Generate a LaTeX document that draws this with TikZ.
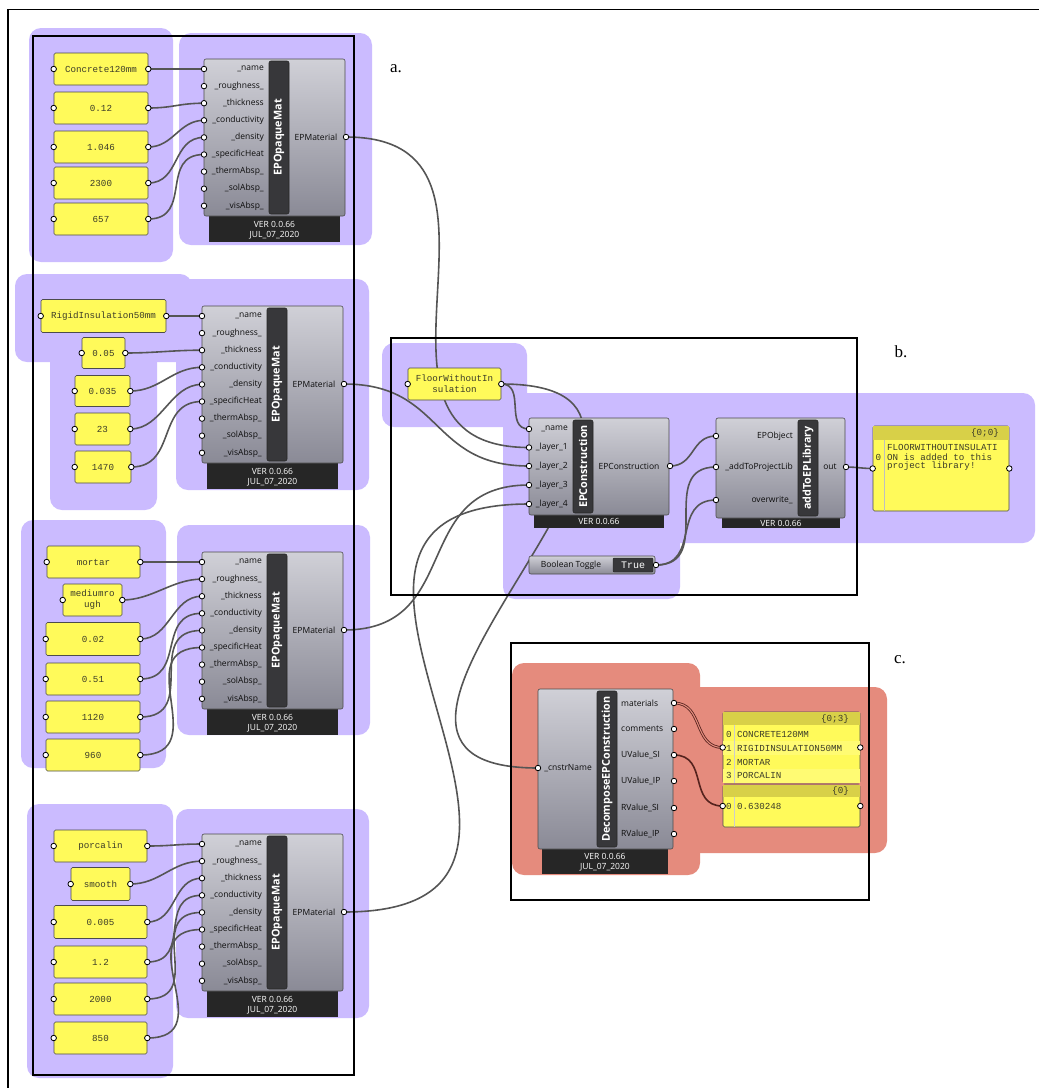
\documentclass[tikz,border=0pt]{standalone}
\usepackage{fontspec}
\newfontfamily\gh{Open Sans}
\newfontfamily\ghmono{Liberation Mono}
\newfontfamily\lblfont{Liberation Serif}
\definecolor{grpc}{RGB}{203,187,255}
\definecolor{salm}{RGB}{229,139,125}
\definecolor{bodytop}{RGB}{208,208,215}
\definecolor{bodybot}{RGB}{138,138,150}
\definecolor{footc}{RGB}{38,38,38}
\definecolor{stripc}{RGB}{55,55,58}
\definecolor{panc}{RGB}{255,250,90}
\definecolor{panhead}{RGB}{216,208,72}
\definecolor{wirec}{RGB}{85,85,85}
\definecolor{redwire}{RGB}{85,35,30}
\definecolor{pantext}{RGB}{60,60,40}
\pgfdeclarelayer{bg}\pgfdeclarelayer{wires}\pgfdeclarelayer{front}
\pgfsetlayers{bg,wires,main,front}
\tikzset{
 grp/.style={fill=grpc, rounded corners=12pt},
 grpc2/.style={fill=salm, rounded corners=12pt},
 body/.style={draw=black!70, line width=0.6pt, rounded corners=2pt, top color=bodytop, bottom color=bodybot},
 strip/.style={fill=stripc, draw=black!85, line width=0.6pt, rounded corners=2pt},
 ttl/.style={font=\gh\bfseries\fontsize{10.8}{11}\selectfont, text=white, inner sep=0pt, rotate=90},
 lab/.style={font=\gh\fontsize{8.5}{9}\selectfont, text=black!95, inner sep=0pt},
 ftxt/.style={font=\gh\fontsize{8.5}{9}\selectfont, text=white, inner sep=0pt},
 pan/.style={draw=black!70, fill=panc, rounded corners=1.5pt, line width=0.6pt, font=\ghmono\fontsize{9.2}{11}\selectfont, text=pantext, align=center, inner sep=0pt},
 ptxt/.style={font=\ghmono\fontsize{9.2}{10}\selectfont, text=pantext, inner sep=0pt},
 port/.style={circle, draw=black, fill=white, inner sep=0pt, minimum size=5.5pt, line width=0.8pt},
 wire/.style={draw=wirec, line width=1.6pt},
 frame/.style={draw=black, line width=1.4pt},
 letter/.style={font=\lblfont\fontsize{17}{17}\selectfont, inner sep=0pt},
}
\newcommand\opmat[3]{%
 \begin{scope}[shift={(#2,#3)}]
  \fill[footc] (5,150) rectangle (136,183);
  \draw[body] (0,0) rectangle (141,157);
  \draw[strip] (65,2) rectangle (85,155);
  \node[ttl] at (75,78.5) {EPOpaqueMat};
  \foreach \pname [count=\i from 0] in {\_name,\_roughness\_,\_thickness,\_conductivity,\_density,\_specificHeat,\_thermAbsp\_,\_solAbsp\_,\_visAbsp\_}{
    \node[lab, anchor=east] at (60,{10+17.1*\i}) {\pname};
    \node[port] (#1i\i) at (0,{10+17.1*\i}) {};
  }
  \node[lab] at (112,78) {EPMaterial};
  \node[port] (#1o) at (142,78) {};
  \node[ftxt] at (70.5,165) {VER 0.0.66};
  \node[ftxt] at (70.5,176) {JUL\_07\_2020};
 \end{scope}}
\newcommand\ypan[6]{%
 \node[pan, minimum width=#4pt, minimum height=#5pt] (#1) at (#2,#3) {#6};
 \node[port] (#1i) at (#1.west) {};
 \node[port] (#1o) at (#1.east) {};}
\newcommand\wire[3]{\draw[wire] (#1.center) .. controls +(#3,0) and +(-#3,0) .. (#2.center);}
\begin{document}
\begin{tikzpicture}[x=1pt,y=-1pt]
\path[use as bounding box] (0,0) rectangle (1039,1088);
% ---------- groups ----------
\begin{pgfonlayer}{bg}
 \fill[white] (0,0) rectangle (1039,1088);
 \fill[grp] (29,28) rectangle (173,262);
 \fill[grp] (179,33) rectangle (372,245);
 \fill[grp] (15,274) rectangle (192,330);
 \fill[grp] (15,279) rectangle (369,362);
 \fill[grp] (50,300) rectangle (157,510);
 \fill[grp] (176,300) rectangle (369,490);
 \fill[grp] (21,520) rectangle (166,768);
 \fill[grp] (177,525) rectangle (370,735);
 \fill[grp] (27,804) rectangle (173,1078);
 \fill[grp] (176,809) rectangle (369,1018);
 \fill[grp] (382,343) rectangle (527,427);
 \fill[grp] (503,393) rectangle (680,599);
 \fill[grp] (503,393) rectangle (1035,543);
 \fill[grpc2] (512,663) rectangle (700,875);
 \fill[grpc2] (512,687) rectangle (887,853);
\end{pgfonlayer}
% ---------- material components ----------
\opmat{ca}{204}{59}
\opmat{cb}{202}{306}
\opmat{cc}{202}{552}
\opmat{cd}{202}{834}
% ---------- panels ----------
\ypan{pa1}{101}{69}{94}{32}{Concrete120mm}
\ypan{pa2}{101}{108}{94}{32}{0.12}
\ypan{pa3}{101}{147}{94}{32}{1.046}
\ypan{pa4}{101}{183}{94}{32}{2300}
\ypan{pa5}{101}{219}{94}{32}{657}
\ypan{pb1}{103.5}{316}{125}{33}{RigidInsulation50mm}
\ypan{pb2}{103.5}{353}{43}{31}{0.05}
\ypan{pb3}{102.5}{391}{55}{31}{0.035}
\ypan{pb4}{102.5}{429}{55}{32}{23}
\ypan{pb5}{103}{467}{56}{32}{1470}
\ypan{pc1}{93.5}{562}{93}{32}{mortar}
\ypan{pc2}{92.5}{600}{59}{32}{mediumro\\ugh}
\ypan{pc3}{93}{639}{94}{33}{0.02}
\ypan{pc4}{93}{679}{94}{32}{0.51}
\ypan{pc5}{93}{717}{94}{32}{1120}
\ypan{pc6}{93}{755}{94}{32}{960}
\ypan{pd1}{100.5}{846}{93}{32}{porcalin}
\ypan{pd2}{100.5}{884}{59}{33}{smooth}
\ypan{pd3}{100.5}{922}{93}{33}{0.005}
\ypan{pd4}{100.5}{962}{93}{32}{1.2}
\ypan{pd5}{100.5}{999}{93}{32}{2000}
\ypan{pd6}{100.5}{1038}{93}{32}{850}
\ypan{fw}{454.5}{384}{93}{32}{FloorWithoutIn\\sulation}
% ---------- EPConstruction ----------
\begin{scope}[shift={(529,418)}]
 \fill[footc] (5,90) rectangle (135,110);
 \draw[body] (0,0) rectangle (140,97);
 \draw[strip] (44,2) rectangle (64,95);
 \node[ttl] at (54,48.5) {EPConstruction};
 \foreach \pname/\yy [count=\i from 0] in {\_name/11,\_layer\_1/29.5,\_layer\_2/48,\_layer\_3/67,\_layer\_4/86}{
   \node[lab, anchor=east] at (39,\yy) {\pname};
   \node[port] (eci\i) at (0,\yy) {};
 }
 \node[lab] at (100,48) {EPConstruction};
 \node[port] (eco) at (141,48) {};
 \node[ftxt] at (70,103.5) {VER 0.0.66};
\end{scope}
% ---------- addToEPLibrary ----------
\begin{scope}[shift={(716,418)}]
 \fill[footc] (6,93) rectangle (124,110);
 \draw[body] (0,0) rectangle (129,100);
 \draw[strip] (82,2) rectangle (102,98);
 \node[ttl] at (92,50) {addToEPLibrary};
 \foreach \pname/\yy [count=\i from 0] in {EPObject/18,\_addToProjectLib/49,overwrite\_/82}{
   \node[lab, anchor=east] at (77,\yy) {\pname};
   \node[port] (ali\i) at (0,\yy) {};
 }
 \node[lab] at (114,49) {out};
 \node[port] (alo) at (130,49) {};
 \node[ftxt] at (65,105) {VER 0.0.66};
\end{scope}
% ---------- Boolean toggle ----------
\node[body, minimum width=126pt, minimum height=18pt, inner sep=0pt] (bt) at (592,565) {};
\node[lab] (btl) at (571,565) {Boolean Toggle};
\node[fill=stripc, draw=black!85, minimum width=40pt, minimum height=14pt, inner sep=0pt, rounded corners=1pt, font=\ghmono\fontsize{10}{10}\selectfont, text=white] (btv) at (633,565) {True};
\node[port] (bto) at (656,565) {};
% ---------- output panel ----------
\node[pan, minimum width=136pt, minimum height=85pt] (op) at (941,468.5) {};
\fill[panhead] (873.3,426.3) rectangle (1008.7,440);
\draw[black!25] (884,440) -- (884,510.5);
\node[ptxt, anchor=east] (oph) at (999,433) {\{0;0\}};
\node[ptxt] (opn) at (878.5,457) {0};
\node[ptxt, anchor=west] (opl1) at (887,447) {FLOORWITHOUTINSULATI};
\node[ptxt, anchor=west] (opl2) at (887,457) {ON is added to this};
\node[ptxt, anchor=west] (opl3) at (887,466.5) {project library!};
\node[port] (opi) at (op.west) {};
\node[port] (opo) at (op.east) {};
% ---------- Decompose ----------
\begin{scope}[shift={(538,689)}]
 \fill[footc] (4,150) rectangle (130,185);
 \draw[body] (0,0) rectangle (135,160);
 \draw[strip] (59,2) rectangle (79,158);
 \node[ttl] at (69,80) {DecomposeEPConstruction};
 \node[lab, anchor=east] at (54,79) {\_cnstrName};
 \node[port] (dci) at (0,79) {};
 \foreach \pname/\yy [count=\i from 0] in {materials/14,comments/40,UValue\_SI/66,UValue\_IP/92,RValue\_SI/119,RValue\_IP/145}{
   \node[lab, anchor=west] at (83,\yy) {\pname};
   \node[port] (dco\i) at (136,\yy) {};
 }
 \node[ftxt] at (67,167) {VER 0.0.66};
 \node[ftxt] at (67,178.5) {JUL\_07\_2020};
\end{scope}
% ---------- list panels ----------
\node[pan, minimum width=137pt, minimum height=71pt] (lp) at (791.5,747.5) {};
\fill[panhead] (723.3,712.3) rectangle (859.7,725);
\fill[panc!85!white] (723.3,741) rectangle (859.7,755);
\fill[panc!85!white] (723.3,768.5) rectangle (859.7,782.7);
\draw[black!20] (734,725) -- (734,782.7);
\node[ptxt, anchor=east] (lph) at (849,719) {\{0;3\}};
\foreach \txt/\yy [count=\i from 0] in {CONCRETE120MM/734,RIGIDINSULATION50MM/748,MORTAR/762,PORCALIN/775.5}{
  \node[ptxt] (lpn\i) at (729,\yy) {\i};
  \node[ptxt, anchor=west] (lpt\i) at (737,\yy) {\txt};
}
\node[port] (lpi) at (lp.west) {};
\node[port] (lpo) at (lp.east) {};
\node[pan, minimum width=137pt, minimum height=42pt] (up) at (791.5,806) {};
\fill[panhead] (723.3,785.3) rectangle (859.7,797);
\draw[black!20] (734,797) -- (734,826.7);
\node[ptxt, anchor=east] (uph) at (849,791) {\{0\}};
\node[ptxt] (upn) at (729,806) {0};
\node[ptxt, anchor=west] (upt) at (737,806) {0.630248};
\node[port] (upi) at (up.west) {};
\node[port] (upo) at (up.east) {};
% ---------- wires ----------
\begin{pgfonlayer}{wires}
 \wire{pa1o}{cai0}{25}\wire{pa2o}{cai2}{25}\wire{pa3o}{cai3}{25}\wire{pa4o}{cai4}{32}\wire{pa5o}{cai5}{45}
 \wire{pb1o}{cbi0}{20}\wire{pb2o}{cbi2}{30}\wire{pb3o}{cbi3}{30}\wire{pb4o}{cbi4}{32}\wire{pb5o}{cbi5}{46}
 \wire{pc1o}{cci0}{25}\wire{pc2o}{cci1}{30}\wire{pc3o}{cci2}{30}\wire{pc4o}{cci3}{46}\wire{pc5o}{cci4}{60}\wire{pc6o}{cci5}{76}
 \wire{pd1o}{cdi0}{25}\wire{pd2o}{cdi1}{30}\wire{pd3o}{cdi2}{30}\wire{pd4o}{cdi3}{46}\wire{pd5o}{cdi4}{60}\wire{pd6o}{cdi5}{76}
 \wire{cao}{eci1}{200}
 \wire{cbo}{eci2}{100}
 \wire{cco}{eci3}{120}
 \wire{cdo}{eci4}{300}
 \wire{fwo}{eci0}{25}
 \wire{fwo}{dci}{270}
 \wire{eco}{ali0}{25}
 \wire{bto}{ali1}{60}
 \wire{bto}{ali2}{45}
 \wire{alo}{opi}{10}
 \draw[draw=redwire, line width=0.8pt, double=salm, double distance=1.1pt] (dco0.center) .. controls +(30,0) and +(-30,0) .. (lpi.center);
 \draw[draw=redwire, line width=1.6pt] (dco2.center) .. controls +(35,0) and +(-35,0) .. (upi.center);
\end{pgfonlayer}
% ---------- frames and letters ----------
\begin{pgfonlayer}{front}
 \draw[frame] (33,36) rectangle (354,1075);
 \draw[frame] (391,338) rectangle (857,595);
 \draw[frame] (511,643) rectangle (869,900);
 \draw[frame] (8,1088) -- (8,9.5) -- (1039,9.5);
 \node[letter] (la) at (396,69) {a.};
 \node[letter] (lb) at (901,352) {b.};
 \node[letter] (lc) at (900,660) {c.};
\end{pgfonlayer}
\end{tikzpicture}
\end{document}
